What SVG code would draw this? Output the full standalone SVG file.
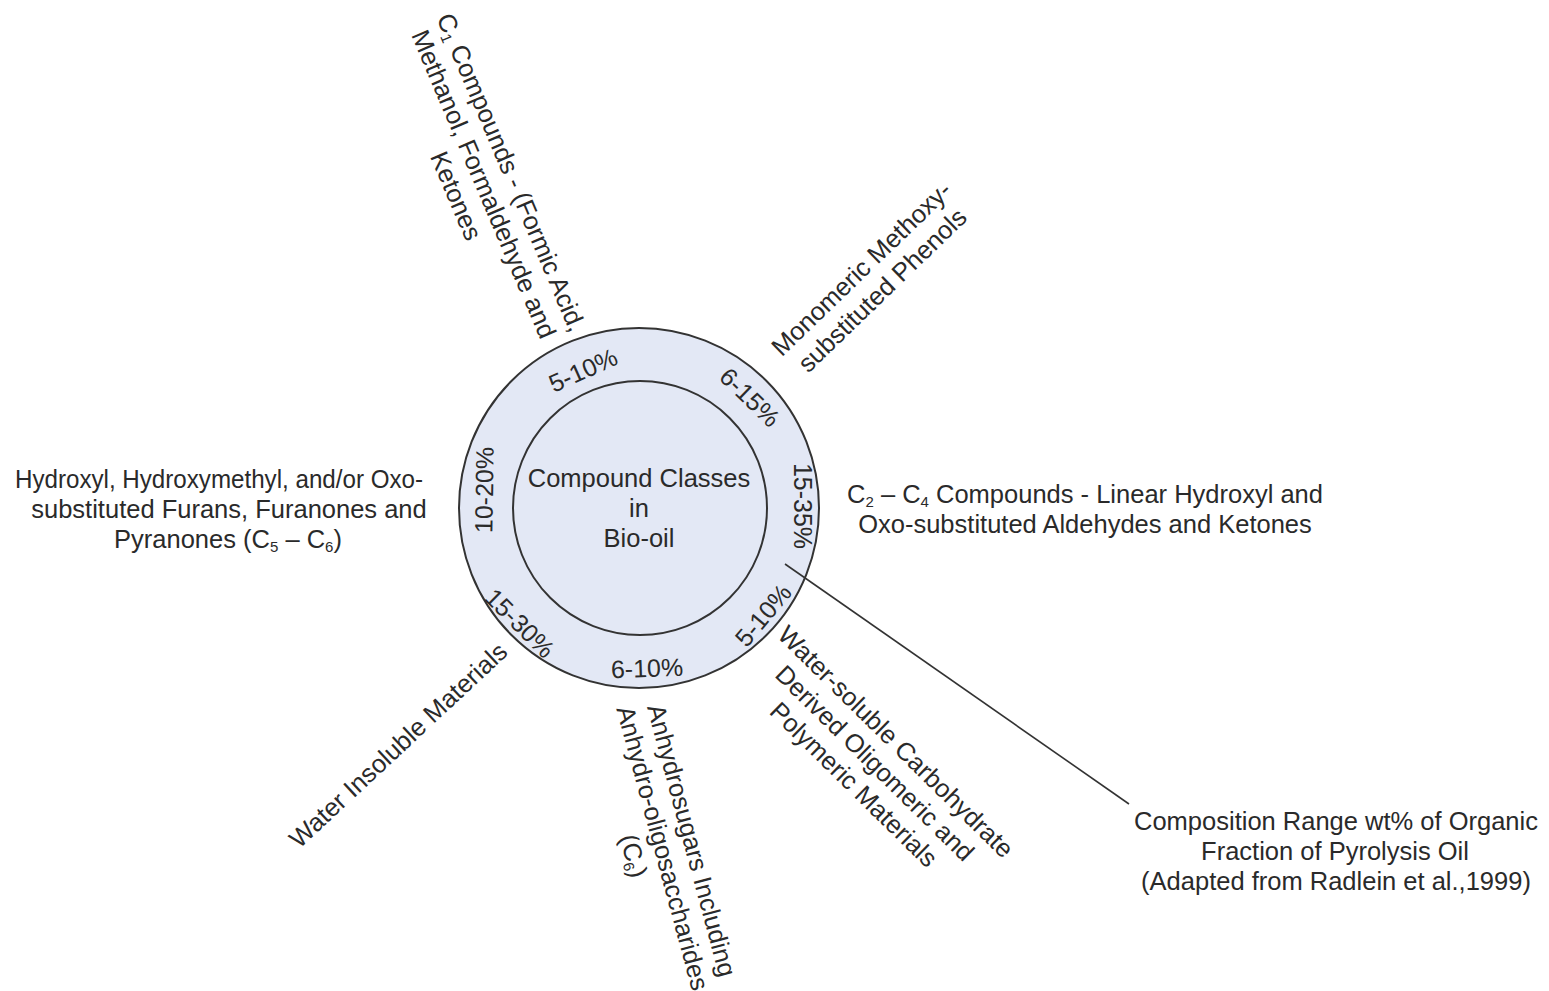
<svg xmlns="http://www.w3.org/2000/svg" width="1549" height="991" viewBox="0 0 1549 991">
  <style>
    text { font-family: "Liberation Sans", Arial, sans-serif; font-size: 25.5px; fill: #2a2a2a; text-anchor: middle; }
    .pct { font-size: 25px; }
    .sub { font-size: 15px; }
    .ring { fill: #e3e8f5; stroke: #333; stroke-width: 2; }
    .leader { stroke: #333; stroke-width: 1.6; fill: none; }
  </style>

  <rect width="1549" height="991" fill="#ffffff"/>

  <!-- central hub: outer ring with percentages, inner disc with title -->
  <g id="hub">
    <circle class="ring" cx="639" cy="508" r="180"/>
    <circle class="ring" cx="640" cy="508" r="127"/>
    <text x="639" y="487">Compound Classes</text>
    <text x="639" y="517">in</text>
    <text x="639" y="547">Bio-oil</text>
  </g>

  <!-- ring percentages, rotated along the circle -->
  <g id="percentages">
    <text class="pct" transform="translate(583,370) rotate(-24)" y="9">5-10%</text>
    <text class="pct" transform="translate(750,397) rotate(44)" y="9">6-15%</text>
    <text class="pct" transform="translate(803,506) rotate(90)" y="9">15-35%</text>
    <text class="pct" transform="translate(763,615) rotate(-50)" y="9">5-10%</text>
    <text class="pct" transform="translate(647,668) rotate(-2)" y="9">6-10%</text>
    <text class="pct" transform="translate(520,623) rotate(45)" y="9">15-30%</text>
    <text class="pct" transform="translate(484,490) rotate(-89)" y="9">10-20%</text>
  </g>

  <!-- leader line to the caption -->
  <g id="connectors">
    <line class="leader" x1="785" y1="564" x2="1129" y2="804"/>
  </g>

  <g id="c1-compounds" transform="translate(484,184) rotate(67)">
    <text y="-21">C<tspan class="sub" dy="4">1</tspan><tspan dy="-4"> Compounds - (Formic Acid,</tspan></text>
    <text y="9">Methanol, Formaldehyde and</text>
    <text y="39">Ketones</text>
  </g>

  <g id="phenols" transform="translate(882,290) rotate(-44)">
    <text y="-21">Monomeric Methoxy-</text>
    <text y="9">substituted Phenols</text>
  </g>

  <g id="c2-c4-compounds">
    <text x="1085" y="503">C<tspan class="sub" dy="4">2</tspan><tspan dy="-4"> – C</tspan><tspan class="sub" dy="4">4</tspan><tspan dy="-4"> Compounds - Linear Hydroxyl and</tspan></text>
    <text x="1085" y="533">Oxo-substituted Aldehydes and Ketones</text>
  </g>

  <g id="water-soluble" transform="translate(875,763) rotate(44.5)">
    <text y="-21">Water-soluble Carbohydrate</text>
    <text y="9">Derived Oligomeric and</text>
    <text y="39">Polymeric Materials</text>
  </g>

  <g id="anhydrosugars" transform="translate(663,848) rotate(75)">
    <text y="-21">Anhydrosugars Including</text>
    <text y="9">Anhydro-oligosaccharides</text>
    <text y="39">(C<tspan class="sub" dy="4">6</tspan><tspan dy="-4">)</tspan></text>
  </g>

  <g id="water-insoluble" transform="translate(398,745) rotate(-43)">
    <text y="9">Water Insoluble Materials</text>
  </g>

  <g id="furans">
    <text x="219" y="488" textLength="408" lengthAdjust="spacingAndGlyphs">Hydroxyl, Hydroxymethyl, and/or Oxo-</text>
    <text x="229" y="518">substituted Furans, Furanones and</text>
    <text x="228" y="548">Pyranones (C<tspan class="sub" dy="4">5</tspan><tspan dy="-4"> – C</tspan><tspan class="sub" dy="4">6</tspan><tspan dy="-4">)</tspan></text>
  </g>

  <g id="caption">
    <text x="1336" y="830">Composition Range wt% of Organic</text>
    <text x="1335" y="860">Fraction of Pyrolysis Oil</text>
    <text x="1336" y="890">(Adapted from Radlein et al.,1999)</text>
  </g>
</svg>
